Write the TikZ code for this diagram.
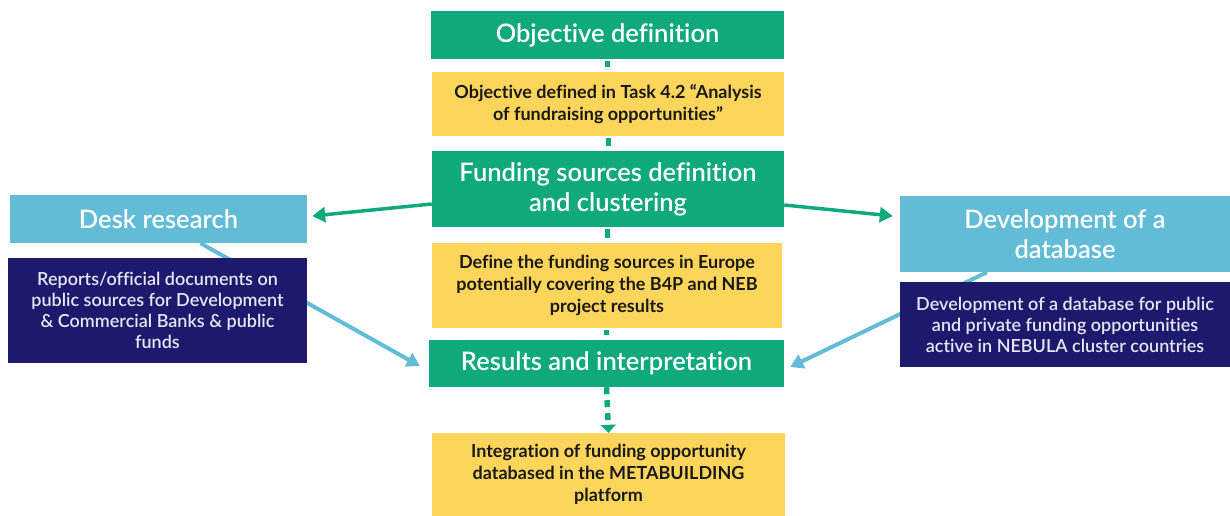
\documentclass[tikz,border=0pt]{standalone}
\usepackage{fontspec}
\setmainfont{Lato}[Ligatures=NoCommon]
\IfFontExistsTF{Lato Semibold}
    {\newfontfamily\midfont{Lato Semibold}[Ligatures=NoCommon]}
    {\newfontfamily\midfont{Lato}[Ligatures=NoCommon]}
\usetikzlibrary{arrows.meta,backgrounds}
\definecolor{stepgreen}{HTML}{10A97E}
\definecolor{noteyellow}{HTML}{FDD55A}
\definecolor{sideblue}{HTML}{62BCD6}
\definecolor{darknavy}{HTML}{1D1A6E}
\definecolor{navytext}{HTML}{E6E6F2}
\begin{document}
\begin{tikzpicture}[x=1pt, y=-1pt,
    stepbox/.style={rectangle, fill=stepgreen, text=white, inner sep=0pt,
        align=center, font=\fontsize{25.5}{30}\midfont},
    notebox/.style={rectangle, fill=noteyellow, text=black!90, inner sep=0pt,
        align=center, font=\fontsize{18}{22}\selectfont\bfseries},
    sidebox/.style={rectangle, fill=sideblue, text=white, inner sep=0pt,
        align=center, font=\fontsize{25.5}{30}\midfont},
    infobox/.style={rectangle, fill=darknavy, text=navytext, inner sep=0pt,
        align=center, font=\fontsize{18}{21}\midfont},
    stub/.style={stepgreen, line width=5pt, shorten <=2pt, shorten >=5pt},
    greenarrow/.style={stepgreen, line width=3.5pt,
        -{Triangle[length=13pt,width=15pt]}},
    bluearrow/.style={sideblue, line width=4pt,
        -{Triangle[length=13pt,width=15pt]}},
    dotarrow/.style={stepgreen, line width=5.5pt, dash pattern=on 7pt off 6pt,
        -{Triangle[length=8pt,width=15pt]}}
]
    \useasboundingbox (0,0) rectangle (1230,516);
    \node[stepbox, minimum width=353pt, minimum height=48pt] (obj) at (607.5,35) {Objective definition};
    \node[notebox, minimum width=352pt, minimum height=64pt] (objnote) at (608,104)
        {Objective defined in Task 4.2 “Analysis\\of fundraising opportunities”};
    \node[stepbox, minimum width=352pt, minimum height=76pt] (fund) at (608,189)
        {Funding sources definition\\and clustering};
    \node[notebox, minimum width=350pt, minimum height=85pt] (fundnote) at (607,285.5)
        {Define the funding sources in Europe\\potentially covering the B4P and NEB\\project results};
    \node[stepbox, minimum width=355pt, minimum height=47pt] (res) at (606.5,363.5) {Results and interpretation};
    \node[notebox, minimum width=353pt, minimum height=83pt] (resnote) at (608.5,474.5)
        {Integration of funding opportunity\\databased in the METABUILDING\\platform};
    \node[sidebox, minimum width=297pt, minimum height=48pt] (desk) at (158.5,219) {Desk research};
    \node[infobox, minimum width=299pt, minimum height=105pt] (deskinfo) at (157.5,310.5)
        {Reports/official documents on\\public sources for Development\\\& Commercial Banks \& public\\funds};
    \node[sidebox, minimum width=330pt, minimum height=76pt] (dbase) at (1065,234)
        {Development of a\\database};
    \node[infobox, minimum width=330pt, minimum height=85pt] (dbaseinfo) at (1065,324.5)
        {Development of a database for public\\and private funding opportunities\\active in NEBULA cluster countries};
    \draw[stub] (obj) -- (objnote);
    \draw[stub] (objnote) -- (fund);
    \draw[stub] (fund) -- (fundnote);
    \draw[stub] (fundnote) -- (res);
    \draw[dotarrow] (res.south) -- (resnote.north);
    \draw[greenarrow] ([yshift=-15pt]fund.west) -- ([xshift=5pt,yshift=3pt]desk.east);
    \draw[greenarrow] ([yshift=-16pt]fund.east) -- ([xshift=-7pt,yshift=18pt]dbase.west);
    \begin{scope}[on background layer]
        \draw[bluearrow] ([xshift=42pt]desk.south) -- ([xshift=-9pt,yshift=-2.5pt]res.west);
        \draw[bluearrow] ([xshift=-78pt]dbase.south) -- ([xshift=6pt,yshift=-3.5pt]res.east);
    \end{scope}
\end{tikzpicture}
\end{document}
